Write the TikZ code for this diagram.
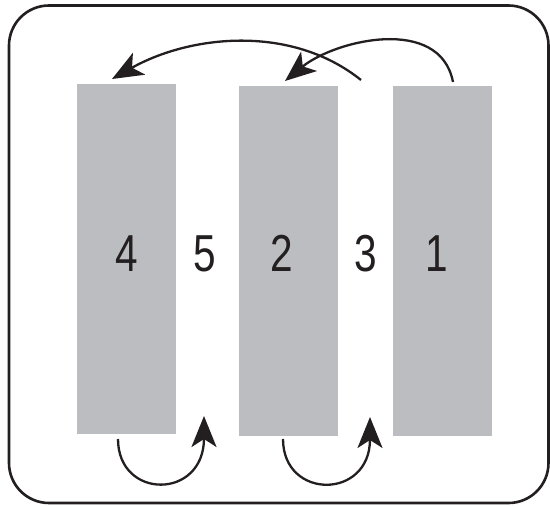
\documentclass[tikz,border=0pt]{standalone}
\usepackage{fontspec}
\setmainfont{Liberation Sans}
\usetikzlibrary{arrows.meta}
\definecolor{ink}{HTML}{231F20}
\definecolor{bargray}{HTML}{BCBDC0}
\begin{document}
\begin{tikzpicture}[x=1pt,y=-1pt,
  barbox/.style={fill=bargray, draw=none, minimum width=99pt, minimum height=350pt, anchor=north west, inner sep=0},
  num/.style={text=ink, font=\fontsize{52}{52}\selectfont, inner sep=0},
  flow/.style={draw=ink, line width=2.3pt, -{Stealth[length=31pt,width=25pt,inset=8pt]}},
  frame/.style={draw=ink, line width=2.6pt, rounded corners=40pt}]
\useasboundingbox (0,0) rectangle (550,506);
\draw[frame] (9,5.5) rectangle (548.5,503);
\node[barbox] (r4) at (77,84) {};
\node[barbox] (r2) at (239,86) {};
\node[barbox] (r1) at (393,86) {};
\node[num] (n4) at (127,253.5) {\scalebox{0.78}[1]{4}};
\node[num] (n5) at (205,253.5) {\scalebox{0.78}[1]{5}};
\node[num] (n2) at (282,253.5) {\scalebox{0.78}[1]{2}};
\node[num] (n3) at (366,253.5) {\scalebox{0.78}[1]{3}};
\node[num] (n1) at (437,253.5) {\scalebox{0.78}[1]{1}};
\coordinate (s1) at (361,80);
\coordinate (t1) at (112,79);
\coordinate (s2) at (453,82);
\coordinate (t2) at (285,81);
\coordinate (s3) at (118,439);
\coordinate (t3) at (204,416);
\coordinate (s4) at (283,439);
\coordinate (t4) at (370,417);
\draw[flow] (s1) .. controls (291,24) and (190,35) .. (t1);
\draw[flow] (s2) .. controls (440,15) and (335,40) .. (t2);
\draw[flow] (s3) .. controls (118,500) and (204,500) .. (t3);
\draw[flow] (s4) .. controls (283,500) and (370,500) .. (t4);
\end{tikzpicture}
\end{document}
